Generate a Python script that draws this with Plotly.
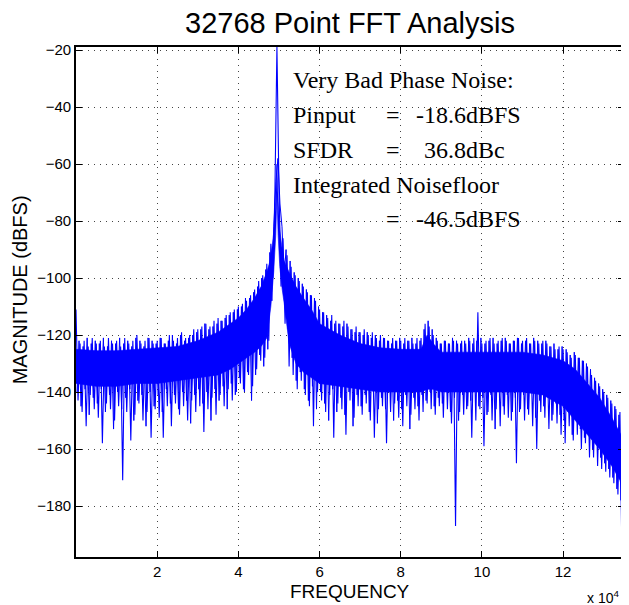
import plotly.graph_objects as go

# ---------------- data ----------------
FREQ_STEP_HZ = 500  # spacing of the sampled spectrum points below
FREQ_OFFSET_B_HZ = 250  # second sample set sits between the first one's points

# sampled spectrum magnitudes (dBFS), alternating local maxima / minima, 0 .. 135000 Hz
mag_db = [
    -111, -143, -123, -147, -122, -152, -124, -141, -121, -146,   # 0.00 - 0.45 e4
    -123, -149, -122, -158, -124, -144, -121, -146, -123, -150,   # 0.50 - 0.95
    -122, -145, -124, -171, -121, -147, -123, -157, -122, -148,   # 1.00 - 1.45
    -120, -144, -123, -150, -122, -147, -121, -156, -123, -146,   # 1.50 - 1.95
    -122, -149, -121, -156, -123, -145, -120, -152, -122, -144,   # 2.00 - 2.45
    -121, -148, -119, -145, -121, -150, -120, -143, -118, -147,   # 2.50 - 2.95
    -118, -145, -117, -154, -116, -146, -117, -142, -115, -148,   # 3.00 - 3.45
    -114, -141, -115, -145, -113, -139, -112, -143, -111, -140,   # 3.50 - 3.95
    -110, -137, -109, -140, -108, -134, -106, -138, -104, -132,   # 4.00 - 4.45
    -101, -129, -99, -128, -95, -122, -88, -100, -70, -18.9,      # 4.50 - 4.95 (carrier)
    -68, -103, -86, -116, -92, -131, -96, -134, -99, -139,        # 5.00 - 5.45
    -101, -136, -103, -141, -105, -145, -106, -152, -108, -140,   # 5.50 - 5.95
    -111, -143, -112, -147, -114, -141, -113, -156, -115, -144,   # 6.00 - 6.45
    -116, -146, -115, -155, -117, -143, -118, -149, -117, -145,   # 6.50 - 6.95
    -119, -148, -118, -144, -120, -150, -119, -156, -121, -146,   # 7.00 - 7.45
    -120, -145, -121, -158, -122, -147, -121, -144, -122, -149,   # 7.50 - 7.95
    -122, -152, -121, -145, -122, -148, -123, -146, -121, -150,   # 8.00 - 8.45
    -121, -147, -116, -144, -117, -146, -120, -148, -122, -145,   # 8.50 - 8.95
    -123, -149, -122, -146, -123, -151, -122, -187, -123, -147,   # 9.00 - 9.45
    -122, -148, -123, -145, -122, -156, -121, -150, -112, -146,   # 9.50 - 9.95
    -123, -159, -122, -147, -121, -150, -123, -146, -122, -152,   # 10.00 - 10.45
    -121, -148, -122, -149, -123, -147, -122, -165, -121, -146,   # 10.50 - 10.95
    -122, -150, -121, -148, -123, -152, -122, -160, -123, -147,   # 11.00 - 11.45
    -122, -149, -123, -153, -124, -148, -125, -151, -124, -155,   # 11.50 - 11.95
    -125, -158, -126, -152, -128, -157, -127, -155, -128, -160,   # 12.00 - 12.45
    -129, -158, -131, -163, -134, -163, -136, -166, -138, -167,   # 12.50 - 12.95
    -140, -168, -142, -170, -144, -172, -146, -176, -147, -198,   # 13.00 - 13.45
    -150,                                                         # 13.50
]
freq_hz = [i * FREQ_STEP_HZ for i in range(len(mag_db))]

# second sample set at 250, 750, ... 134750 Hz (opposite max/min phase)
mag_db_b = [
    -140, -122, -145, -124, -139, -121, -148, -123, -142, -122,   # 0.025 - 0.475 e4
    -144, -123, -139, -121, -147, -124, -141, -122, -153, -123,
    -140, -121, -146, -123, -142, -122, -139, -124, -150, -121,
    -143, -122, -141, -124, -152, -121, -140, -122, -145, -123,
    -141, -121, -147, -123, -139, -122, -144, -120, -141, -123,
    -146, -120, -140, -122, -143, -121, -151, -120, -141, -119,
    -139, -118, -144, -116, -140, -118, -150, -117, -139, -116,
    -143, -115, -138, -114, -146, -113, -137, -112, -141, -111,
    -135, -110, -139, -107, -133, -107, -143, -105, -134, -103,
    -127, -100, -131, -97, -125, -91, -108, -82, -66, -58,        # 4.525 - 4.975
    -74, -82, -100, -90, -118, -94, -128, -98, -136, -100,        # 5.025 - 5.475
    -133, -102, -139, -104, -143, -106, -138, -107, -146, -110,
    -140, -112, -144, -113, -150, -115, -139, -116, -147, -116,
    -142, -117, -148, -116, -140, -118, -152, -119, -141, -119,
    -145, -120, -141, -119, -147, -121, -140, -120, -151, -122,
    -142, -121, -146, -122, -140, -123, -150, -122, -143, -121,
    -146, -123, -141, -122, -153, -121, -142, -123, -145, -122,
    -141, -118, -143, -115, -140, -118, -145, -121, -142, -123,   # 8.525 - 8.975
    -144, -122, -140, -123, -147, -121, -142, -122, -150, -123,
    -141, -122, -146, -121, -143, -123, -140, -122, -145, -121,
    -142, -123, -148, -122, -141, -121, -153, -123, -140, -122,
    -145, -121, -141, -123, -150, -122, -142, -121, -147, -123,
    -141, -122, -146, -123, -140, -121, -149, -122, -143, -123,
    -145, -122, -141, -124, -150, -123, -144, -125, -148, -124,
    -150, -125, -147, -127, -155, -126, -149, -128, -153, -129,   # 12.025 - 12.475
    -156, -130, -154, -132, -160, -135, -158, -137, -163, -139,
    -165, -141, -167, -143, -170, -145, -174, -148, -178, -152,   # 13.025 - 13.475
]
freq_hz_b = [FREQ_OFFSET_B_HZ + i * FREQ_STEP_HZ for i in range(len(mag_db_b))]

# dense noise band (solid core of the trace), frequencies in units of 1e4 Hz
core_freq_e4 = [0, 0.5, 1.0, 1.5, 2.0, 2.5, 3.0, 3.5, 3.8, 4.0,
                4.2, 4.4, 4.56, 4.7, 4.8, 4.87, 4.92, 4.95, 4.98, 5.02,
                5.08, 5.13, 5.25, 5.42, 5.6, 5.8, 6.0, 6.5, 7.0, 7.5,
                8.0, 8.5, 8.65, 8.8, 9.0, 9.5, 10.0, 10.5, 11.0, 11.5,
                12.0, 12.3, 12.6, 12.9, 13.2, 13.4, 13.5]
core_upper_db = [-125, -125.5, -125.5, -125, -124.5, -124, -122, -119, -116, -114,
                 -111, -107, -103, -98, -93, -84, -73, -60, -73, -83,
                 -90, -94, -98, -103, -107, -111, -116, -120, -123, -124.5,
                 -125, -125, -120, -123, -126, -126, -126, -126, -126, -127,
                 -129, -132, -137, -142, -149, -154, -157]
core_lower_db = [-137, -138, -138, -137, -137, -136, -135, -134, -132, -130,
                 -128, -126, -124, -121, -110, -98, -85, -70, -85, -96,
                 -104, -109, -123, -130, -133, -135, -137, -138, -139, -140,
                 -140, -140, -139, -139, -140, -140, -140, -140, -140, -141,
                 -145, -150, -155, -160, -166, -171, -176]
core_freq_hz = [f * 1e4 for f in core_freq_e4]

xtick_vals = [20000, 40000, 60000, 80000, 100000, 120000]
xtick_text = ["2", "4", "6", "8", "10", "12"]
ytick_vals = [-180, -160, -140, -120, -100, -80, -60, -40, -20]
ytick_text = ["\u2212180", "\u2212160", "\u2212140", "\u2212120", "\u2212100",
              "\u221280", "\u221260", "\u221240", "\u221220"]

title_text = "32768 Point FFT Analysis"
note_lines = ["Very Bad Phase Noise:", "Pinput", "SFDR", "Integrated Noisefloor"]
note_values = ["-18.6dBFS", "36.8dBc", "-46.5dBFS"]

# ---------------- figure ----------------
BLUE = "#0000FF"
fig = go.Figure()

fig.add_trace(go.Scatter(
    x=core_freq_hz + core_freq_hz[::-1],
    y=core_upper_db + core_lower_db[::-1],
    fill="toself", fillcolor=BLUE, mode="lines",
    line=dict(color=BLUE, width=0.6), hoverinfo="skip", showlegend=False))

fig.add_trace(go.Scatter(
    x=freq_hz_b, y=mag_db_b, mode="lines",
    line=dict(color=BLUE, width=1.0), showlegend=False))

fig.add_trace(go.Scatter(
    x=freq_hz, y=mag_db, mode="lines",
    line=dict(color=BLUE, width=1.1), showlegend=False))

SANS = "Liberation Sans, Arial, Helvetica, sans-serif"
SERIF = "Liberation Serif, Times New Roman, serif"

axis_common = dict(
    showline=True, linecolor="black", linewidth=1.8, mirror="allticks",
    ticks="inside", ticklen=6, tickwidth=1, tickcolor="black",
    showgrid=True, gridcolor="#444444", gridwidth=1, griddash="1px,5px",
    zeroline=False, tickfont=dict(family=SANS, size=15, color="black"),
)

fig.update_xaxes(range=[0, 135000], tickmode="array",
                 tickvals=xtick_vals, ticktext=xtick_text, **axis_common)
fig.update_yaxes(range=[-197.9, -18.9], tickmode="array",
                 tickvals=ytick_vals, ticktext=ytick_text, **axis_common)

annotations = []
serif_font = dict(family=SERIF, size=24, color="black")
# left column of the note
for txt, yv in zip(note_lines, [-30.5, -42.8, -55.1, -67.4]):
    annotations.append(dict(x=53032, y=yv, xref="x", yref="y", text=txt,
                            showarrow=False, xanchor="left", yanchor="middle",
                            font=serif_font))
# '=' signs
for yv in [-42.8, -55.1, -79.3]:
    annotations.append(dict(x=78198, y=yv, xref="x", yref="y", text="=",
                            showarrow=False, xanchor="center", yanchor="middle",
                            font=serif_font))
# values
for txt, xv, yv in zip(note_values, [83231, 85195, 83231], [-42.8, -55.1, -79.3]):
    annotations.append(dict(x=xv, y=yv, xref="x", yref="y", text=txt,
                            showarrow=False, xanchor="left", yanchor="middle",
                            font=serif_font))

# axis labels
annotations.append(dict(x=0.5, y=-0.0673, xref="paper", yref="paper",
                        text="FREQUENCY", showarrow=False,
                        xanchor="center", yanchor="middle",
                        font=dict(family=SANS, size=19, color="black")))
annotations.append(dict(x=-0.1018, y=0.5233, xref="paper", yref="paper",
                        text="MAGNITUDE (dBFS)", showarrow=False, textangle=-90,
                        xanchor="center", yanchor="middle",
                        font=dict(family=SANS, size=20, color="black")))
annotations.append(dict(x=0.962, y=-0.078, xref="paper", yref="paper",
                        text="x 10<sup>4</sup>", showarrow=False,
                        xanchor="center", yanchor="middle",
                        font=dict(family=SANS, size=14, color="black")))

# the page body adds an 8 px offset, so the figure is 8 px smaller
fig.update_layout(
    width=621, height=597,
    margin=dict(l=68, r=3, t=39, b=48),
    paper_bgcolor="white", plot_bgcolor="white",
    title=dict(text=title_text, x=0.5, xref="paper", xanchor="center",
               y=1 - 15 / 597, yref="container", yanchor="middle",
               font=dict(family=SANS, size=29, color="black")),
    annotations=annotations,
    showlegend=False,
)

fig.write_html("out.html")
